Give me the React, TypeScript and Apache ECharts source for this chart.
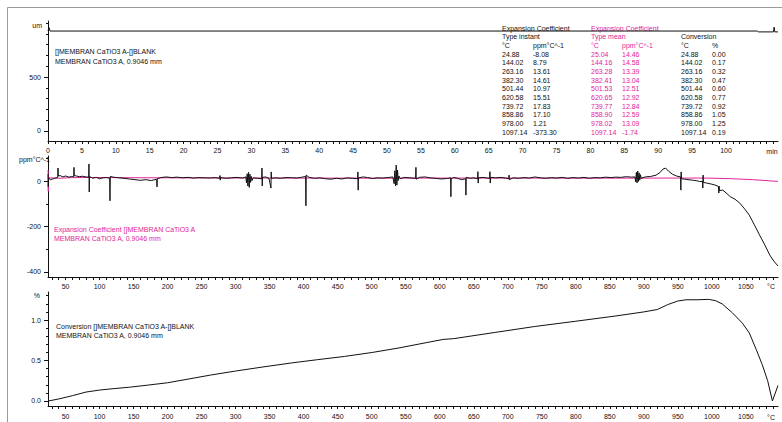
import React, { useEffect, useRef } from "react";
import * as echarts from "echarts";

const FONT = '"Liberation Sans", Arial, sans-serif';
const INK = "#111111";
const MAGENTA = "#e2249c";

// Sample length (um) against time (min)
const lengthTrace: [number, number][] = [
  [0, 926], [0.15, 958], [0.3, 926], [104.6, 926], [104.8, 918],
  [107.0, 918], [107.1, 962], [107.2, 918], [107.67, 918],
];

// Table: instant expansion coefficient
const instantTemps = [24.88, 144.02, 263.16, 382.3, 501.44, 620.58, 739.72, 858.86, 978.0, 1097.14];
const instantValues = [-8.08, 8.79, 13.61, 14.61, 10.97, 15.51, 17.83, 17.1, 1.21, -373.3];

// Table: mean expansion coefficient
const meanTemps = [25.04, 144.16, 263.28, 382.41, 501.53, 620.65, 739.77, 858.9, 978.02, 1097.14];
const meanValues = [14.46, 14.58, 13.39, 13.04, 12.51, 12.92, 12.84, 12.59, 13.09, -1.74];

// Table: conversion
const convTemps = [24.88, 144.02, 263.16, 382.3, 501.44, 620.58, 739.72, 858.86, 978.0, 1097.14];
const convValues = [0.0, 0.17, 0.32, 0.47, 0.6, 0.77, 0.92, 1.05, 1.25, 0.19];

// Instant coefficient trace (°C, ppm/°C) between the tabulated points
const instantTrace: [number, number][] = [
  [24.3, 30], [24.6, -25], [25.3, 12], [28, 6], [32, 10], [36, 14], [38.5, 16], [38.9, 57], [39.3, 22],
  [42, 24], [46, 18], [50, 22], [55, 17], [59, 20], [62.0, 18], [62.4, 60], [62.8, 24], [66, 22], [70, 19],
  [75, 21], [80, 18], [84.0, 17], [84.4, 75], [84.8, -48], [85.2, 20], [90, 12], [95, 16], [100, 10],
  [105, 14], [110, 15], [114.9, 12], [115.3, -87], [115.7, 20], [120, 17], [128, 14], [136, 12], [152, 6],
  [160, 3], [168, 6], [176, 2], [184.0, 8], [184.4, -26], [184.8, 10], [190, 15], [198, 18], [206, 15],
  [214, 17], [222, 14], [230, 16], [238, 13], [246, 15], [254, 14], [270, 15], [276.6, 12], [277, 24],
  [277.4, 4], [278, 15], [286, 12], [294, 14], [302, 16], [310, 13], [315, 18], [316, -8], [317, 32],
  [318, -22], [319, 38], [320, -28], [321, 30], [322, -6], [323, 20], [324, 2], [326, 14], [332, 12],
  [338.3, 10], [338.7, 57], [339.1, -22], [339.5, 16], [344, 18], [349, 12], [351.9, -31], [352.3, 40],
  [352.7, 12], [358, 14], [366, 12], [374, 15], [390, 13], [396, 16], [402.9, 20], [403.3, -109],
  [403.7, 26], [408, 16], [416, 12], [424, 14], [432, 10], [440, 8], [448, 12], [456, 9], [464, 14],
  [472, 12], [479.3, 10], [479.7, 40], [480.1, -40], [480.5, 14], [488, 18], [494, 15], [508, 14],
  [516, 13], [524, 15], [531, 18], [533, -12], [534, 45], [535, -22], [536, 70], [537, -18], [538, 48],
  [539, 2], [540, 22], [542, 10], [548, 16], [556, 14], [564.6, 12], [565, 60], [565.4, 8], [570, 16],
  [578, 18], [586, 14], [594, 12], [602, 9], [610, 11], [616.0, 14], [616.4, -69], [616.8, 10], [626, 12],
  [632, 6], [638.1, 10], [638.5, -62], [638.9, 16], [645, 12], [650, 14], [655.7, 10], [656.1, 41],
  [656.5, -9], [657, 14], [664, 16], [670, 13], [673.4, 12], [673.8, 41], [674.2, -9], [675, 16],
  [682, 14], [690, 16], [697, 13], [701.5, 10], [701.9, 26], [702.3, 6], [708, 14], [716, 12], [724, 15],
  [732, 13], [748, 14], [756, 12], [764, 15], [772, 13], [780, 16], [788, 12], [796, 15], [804, 13],
  [812, 16], [820, 12], [828, 15], [836, 14], [844, 17], [852, 15], [866, 16], [874, 19], [882, 17],
  [887, 18], [888, -4], [889, 38], [890, -8], [891, 44], [892, -2], [893, 36], [894, 4], [895, 28],
  [896, 12], [902, 18], [910, 20], [918, 26], [924, 38], [928, 52], [932, 57], [936, 44], [942, 30],
  [948, 22], [954.0, 18], [954.4, -40], [954.8, 40], [955.4, 10], [960, 8], [968, 5], [973, 3],
  [982, -2], [986.3, -2], [986.7, -31], [987.1, 26], [987.5, -6], [994, -10], [1000, -14], [1005, -18],
  [1009.8, -24], [1010.2, -53], [1010.6, -22], [1011, -42], [1016, -40], [1022, -55], [1027, -69],
  [1034, -80], [1041, -97], [1048, -122], [1055, -150], [1062, -190], [1070, -237], [1078, -282],
  [1085, -325], [1091, -352],
];

// Mean coefficient trace (°C, ppm/°C) between the tabulated points
const meanTrace: [number, number][] = [
  [24.3, 48], [24.6, -45], [40, 12], [60, 15], [90, 15.5], [1000, 12.5], [1030, 10], [1060, 6],
];

// Conversion trace (°C, %) between the tabulated points
const convTrace: [number, number][] = [
  [40, 0.025], [60, 0.065], [80, 0.11], [100, 0.135], [120, 0.152], [170, 0.195], [200, 0.225],
  [230, 0.27], [300, 0.37], [340, 0.42], [420, 0.51], [460, 0.55], [540, 0.655], [580, 0.72],
  [605, 0.76], [680, 0.845], [800, 0.985], [900, 1.1], [920, 1.13], [935, 1.19], [950, 1.235],
  [962, 1.25], [995, 1.255], [1005, 1.24], [1015, 1.2], [1030, 1.09], [1045, 0.96], [1055, 0.84],
  [1065, 0.64], [1074, 0.45], [1082, 0.25], [1089, 0.0],
];

// Axis tick labels
const timeLabels = [0, 5, 10, 15, 20, 25, 30, 35, 40, 45, 50, 55, 60, 65, 70, 75, 80, 85, 90, 95, 100];
const tempLabels = [50, 100, 150, 200, 250, 300, 350, 400, 450, 500, 550, 600, 650, 700, 750, 800, 850, 900, 950, 1000, 1050];
const lengthLabels = [0, 500];
const coefLabels = [-400, -200, 0];
const convLabels = [0, 0.5, 1.0];

const steps = (from: number, to: number, step: number) => {
  const out: number[] = [];
  for (let v = from; v <= to + 1e-9; v += step) out.push(Math.round(v * 1000) / 1000);
  return out;
};

const merge = (trace: [number, number][], xs: number[], ys: number[]) =>
  [...trace, ...xs.map((x, i) => [x, ys[i]] as [number, number])].sort((a, b) => a[0] - b[0]);

const TIME_MIN = 0;
const TIME_MAX = 107.67;
const TEMP_MIN = 24.2;
const TEMP_MAX = 1097.2;

const plain = (v: number) => String(v);

const xAxisOf = (gridIndex: number, min: number, max: number, ticks: number[], labels: number[], margin: number) => ({
  type: "value",
  gridIndex,
  min,
  max,
  position: "bottom",
  axisLine: { show: true, onZero: false, lineStyle: { color: INK, width: 1 } },
  axisTick: { show: true, inside: false, length: 3, customValues: ticks, lineStyle: { color: INK, width: 1 } },
  axisLabel: {
    show: true, customValues: labels, fontSize: 7, fontFamily: FONT, color: INK, margin,
    hideOverlap: false, formatter: plain,
  },
  splitLine: { show: false },
});

const yAxisOf = (gridIndex: number, min: number, max: number, major: number[], fmt: (v: number) => string) => ({
  type: "value",
  gridIndex,
  min,
  max,
  position: "left",
  axisLine: { show: true, onZero: false, lineStyle: { color: INK, width: 1 } },
  axisTick: { show: true, inside: false, length: 4, customValues: major, lineStyle: { color: INK, width: 1 } },
  axisLabel: { show: true, customValues: major, fontSize: 7, fontFamily: FONT, color: INK, margin: 7, formatter: fmt },
  splitLine: { show: false },
});

const yMinorOf = (gridIndex: number, min: number, max: number, minor: number[]) => ({
  type: "value",
  gridIndex,
  min,
  max,
  position: "left",
  axisLine: { show: false, onZero: false },
  axisTick: { show: true, inside: false, length: 2, customValues: minor, lineStyle: { color: INK, width: 1 } },
  axisLabel: { show: false },
  splitLine: { show: false },
});

const txt = (text: string, x: number, y: number, fill = INK, align = "left") => ({
  type: "text",
  x,
  y,
  silent: true,
  style: { text, fill, font: `7px ${FONT}`, align, verticalAlign: "middle" },
});

const fmt2 = (v: number) => v.toFixed(2);

function buildTable() {
  const rowY = (i: number) => 54 + i * 8.67;
  const items: any[] = [
    txt("Expansion Coefficient", 502, 28),
    txt("Type instant", 502, 36.5),
    txt("°C", 502, 45),
    txt("ppm°C^-1", 533, 45),
    txt("Expansion Coefficient", 591, 28, MAGENTA),
    txt("Type mean", 591, 36.5, MAGENTA),
    txt("°C", 591, 45, MAGENTA),
    txt("ppm°C^-1", 622, 45, MAGENTA),
    txt("Conversion", 681, 36),
    txt("°C", 681, 45),
    txt("%", 712, 45),
  ];
  instantTemps.forEach((t, i) => {
    items.push(txt(fmt2(t), 502, rowY(i)));
    items.push(txt(fmt2(instantValues[i]), 533, rowY(i)));
  });
  meanTemps.forEach((t, i) => {
    items.push(txt(fmt2(t), 591, rowY(i), MAGENTA));
    items.push(txt(fmt2(meanValues[i]), 622, rowY(i), MAGENTA));
  });
  convTemps.forEach((t, i) => {
    items.push(txt(fmt2(t), 681, rowY(i)));
    items.push(txt(fmt2(convValues[i]), 712, rowY(i)));
  });
  return items;
}

export default function App() {
  const ref = useRef<HTMLDivElement>(null);

  useEffect(() => {
    if (!ref.current) return;
    const chart = echarts.init(ref.current, undefined, { renderer: "svg" });

    const lenMin = -93, lenMax = 1019;
    const coefMin = -422, coefMax = 110;
    const convMin = -0.062, convMax = 1.346;

    const option: any = {
      animation: false,
      backgroundColor: "#ffffff",
      grid: [
        { left: 48, top: 21, width: 730, height: 120 },
        { left: 48, top: 156, width: 730, height: 121 },
        { left: 48, top: 292, width: 730, height: 114 },
      ],
      xAxis: [
        xAxisOf(0, TIME_MIN, TIME_MAX, steps(0, 107, 1), timeLabels, 6),
        xAxisOf(1, TEMP_MIN, TEMP_MAX, steps(30, 1090, 10), tempLabels, 6),
        xAxisOf(2, TEMP_MIN, TEMP_MAX, steps(30, 1090, 10), tempLabels, 7),
      ],
      yAxis: [
        yAxisOf(0, lenMin, lenMax, lengthLabels, plain),
        yMinorOf(0, lenMin, lenMax, steps(100, 1000, 100)),
        yAxisOf(1, coefMin, coefMax, coefLabels, plain),
        yMinorOf(1, coefMin, coefMax, [-300, -100, 100]),
        yAxisOf(2, convMin, convMax, convLabels, (v: number) => v.toFixed(1)),
        yMinorOf(2, convMin, convMax, steps(0.1, 1.3, 0.1)),
      ],
      series: [
        {
          type: "line", xAxisIndex: 0, yAxisIndex: 0, data: lengthTrace, symbol: "none", silent: true,
          lineStyle: { color: INK, width: 1 },
        },
        {
          type: "line", xAxisIndex: 1, yAxisIndex: 2, data: merge(meanTrace, meanTemps, meanValues),
          symbol: "none", silent: true, lineStyle: { color: MAGENTA, width: 1 },
        },
        {
          type: "line", xAxisIndex: 1, yAxisIndex: 2, data: merge(instantTrace, instantTemps, instantValues),
          symbol: "none", silent: true, lineStyle: { color: INK, width: 1 },
        },
        {
          type: "line", xAxisIndex: 2, yAxisIndex: 4, data: merge(convTrace, convTemps, convValues),
          symbol: "none", silent: true, lineStyle: { color: INK, width: 1 },
        },
      ],
      graphic: [
        {
          type: "rect", silent: true,
          shape: { x: 7.5, y: 7.5, width: 800, height: 440 },
          style: { fill: "none", stroke: "#9a9a9a", lineWidth: 1 },
        },
        txt("um", 42, 25, INK, "right"),
        txt("ppm°C^-1", 50, 159, INK, "right"),
        txt("%", 40, 295, INK, "right"),
        txt("min", 772, 151, INK, "center"),
        txt("°C", 771, 286, INK, "center"),
        txt("°C", 771, 417, INK, "center"),
        txt("[]MEMBRAN CaTiO3 A-[]BLANK", 55, 51),
        txt("MEMBRAN CaTiO3 A, 0.9046 mm", 55, 61),
        txt("Expansion Coefficient []MEMBRAN CaTiO3 A", 54, 229, MAGENTA),
        txt("MEMBRAN CaTiO3 A, 0.9046 mm", 54, 238.5, MAGENTA),
        txt("Conversion []MEMBRAN CaTiO3 A-[]BLANK", 56, 326.5),
        txt("MEMBRAN CaTiO3 A, 0.9046 mm", 56, 335),
        ...buildTable(),
      ],
    };

    chart.setOption(option);
    return () => chart.dispose();
  }, []);

  return (
    <div
      ref={ref}
      style={{ position: "absolute", left: 0, top: 0, width: 782, height: 422, background: "#fff" }}
    />
  );
}
